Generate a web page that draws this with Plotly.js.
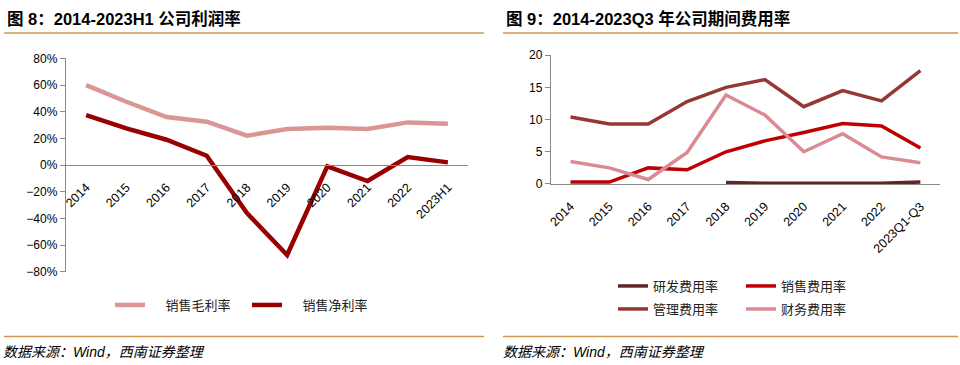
<!DOCTYPE html>
<html><head><meta charset="utf-8">
<script src="https://cdn.plot.ly/plotly-3.0.1.min.js"></script>
<style>body{margin:0;background:#fff}#c{width:960px;height:365px}</style>
</head><body><div id="c"></div>
<script>
const catsL = ['2014','2015','2016','2017','2018','2019','2020','2021','2022','2023H1'];
const grossMargin = [60, 47.5, 36, 32.5, 22, 27, 28, 27, 32, 31];
const netMargin = [37.5, 27.5, 19, 7, -36, -67.5, -1, -12, 6, 2];

const catsR = ['2014','2015','2016','2017','2018','2019','2020','2021','2022','2023Q1-Q3'];
const rdRate = [null, null, null, null, 0.25, 0.1, 0.1, 0.1, 0.1, 0.3];
const salesRate = [0.3, 0.3, 2.5, 2.2, 5.0, 6.7, 8.0, 9.4, 9.0, 5.6];
const mgmtRate = [10.4, 9.3, 9.3, 12.8, 15.0, 16.2, 12.0, 14.5, 12.9, 17.6];
const finRate = [3.5, 2.5, 0.7, 4.9, 13.8, 10.7, 5.0, 7.8, 4.2, 3.3];

const F = 'Liberation Sans, Arial, Noto Sans CJK SC, sans-serif';
const CJK = 'Noto Sans CJK SC, sans-serif';
const AX = '#898989';
const SP = '\u2002\u2002\u2009';

const traces = [
  {x: catsL, y: grossMargin, name: SP + '销售毛利率', type: 'scatter', mode: 'lines',
   line: {color: '#D99694', width: 4.5}, xaxis: 'x', yaxis: 'y', legend: 'legend'},
  {x: catsL, y: netMargin, name: SP + '销售净利率', type: 'scatter', mode: 'lines',
   line: {color: '#990000', width: 4.5}, xaxis: 'x', yaxis: 'y', legend: 'legend'},
  {x: catsR, y: rdRate, name: '研发费用率', type: 'scatter', mode: 'lines',
   line: {color: '#632523', width: 3.5}, xaxis: 'x2', yaxis: 'y2', legend: 'legend2'},
  {x: catsR, y: salesRate, name: '销售费用率', type: 'scatter', mode: 'lines',
   line: {color: '#C00000', width: 3.5}, xaxis: 'x2', yaxis: 'y2', legend: 'legend2'},
  {x: catsR, y: mgmtRate, name: '管理费用率', type: 'scatter', mode: 'lines',
   line: {color: '#953735', width: 3.5}, xaxis: 'x2', yaxis: 'y2', legend: 'legend3'},
  {x: catsR, y: finRate, name: '财务费用率', type: 'scatter', mode: 'lines',
   line: {color: '#DA8A92', width: 3.5}, xaxis: 'x2', yaxis: 'y2', legend: 'legend3'}
];

const legBase = {orientation: 'h', font: {family: CJK, size: 13, color: '#222'},
  bgcolor: 'rgba(0,0,0,0)', borderwidth: 0, xanchor: 'left', yanchor: 'middle', tracegroupgap: 0};

const layout = {
  width: 960, height: 365,
  margin: {l: 0, r: 0, t: 0, b: 0},
  paper_bgcolor: '#fff', plot_bgcolor: '#fff',
  font: {family: F, size: 12, color: '#000'},
  showlegend: true,
  xaxis: {domain: [0.0688, 0.4875], anchor: 'free', position: 0.548, type: 'category', range: [-0.5, 9.5],
    showline: true, linecolor: AX, linewidth: 1.3, showgrid: false, zeroline: false,
    ticks: '', tickangle: -45, ticklabelstandoff: 9, tickfont: {family: F, size: 12.5, color: '#000'}},
  yaxis: {domain: [0.2556, 0.840], anchor: 'x', range: [-80, 80], dtick: 20, ticksuffix: '%',
    showline: true, linecolor: AX, linewidth: 1.3, showgrid: false, zeroline: false,
    ticks: 'outside', ticklen: 5, tickcolor: AX, tickfont: {family: F, size: 12, color: '#000'}},
  xaxis2: {domain: [0.574, 0.979], anchor: 'y2', type: 'category', range: [-0.5, 9.5],
    showline: true, linecolor: AX, linewidth: 1.3, showgrid: false, zeroline: false,
    ticks: '', tickangle: -45, ticklabelstandoff: 9, tickfont: {family: F, size: 12.5, color: '#000'}},
  yaxis2: {domain: [0.4959, 0.849], anchor: 'x2', range: [0, 20], dtick: 5,
    showline: true, linecolor: AX, linewidth: 1.3, showgrid: false, zeroline: false,
    ticks: 'outside', ticklen: 5, tickcolor: AX, tickfont: {family: F, size: 12, color: '#000'}},
  legend: Object.assign({}, legBase, {x: 110/960, y: 1 - 305/365, entrywidth: 92}),
  legend2: Object.assign({}, legBase, {x: 613/960, y: 1 - 286/365, entrywidth: 83}),
  legend3: Object.assign({}, legBase, {x: 613/960, y: 1 - 309/365, entrywidth: 83}),
  shapes: [
    {type: 'line', xref: 'paper', yref: 'paper', x0: 4/960, x1: 484/960, y0: 1 - 33/365, y1: 1 - 33/365, line: {color: '#CC9655', width: 1.5}},
    {type: 'line', xref: 'paper', yref: 'paper', x0: 503/960, x1: 958/960, y0: 1 - 33/365, y1: 1 - 33/365, line: {color: '#CC9655', width: 1.5}},
    {type: 'line', xref: 'paper', yref: 'paper', x0: 4/960, x1: 484/960, y0: 1 - 336.5/365, y1: 1 - 336.5/365, line: {color: '#CC9655', width: 1.5}},
    {type: 'line', xref: 'paper', yref: 'paper', x0: 503/960, x1: 958/960, y0: 1 - 336.5/365, y1: 1 - 336.5/365, line: {color: '#CC9655', width: 1.5}}
  ],
  annotations: [
    {text: '<b>图 8：2014-2023H1 公司利润率</b>', xref: 'paper', yref: 'paper', x: 5/960, y: 1 - 18.5/365,
     xanchor: 'left', yanchor: 'middle', showarrow: false, font: {family: F, size: 16.5, color: '#000'}},
    {text: '<b>图 9：2014-2023Q3 年公司期间费用率</b>', xref: 'paper', yref: 'paper', x: 504/960, y: 1 - 18.5/365,
     xanchor: 'left', yanchor: 'middle', showarrow: false, font: {family: F, size: 16.5, color: '#000'}},
    {text: '<i>数据来源：Wind，西南证券整理</i>', xref: 'paper', yref: 'paper', x: 1/960, y: 1 - 352/365,
     xanchor: 'left', yanchor: 'middle', showarrow: false, font: {family: F, size: 14, color: '#000'}},
    {text: '<i>数据来源：Wind，西南证券整理</i>', xref: 'paper', yref: 'paper', x: 501/960, y: 1 - 352/365,
     xanchor: 'left', yanchor: 'middle', showarrow: false, font: {family: F, size: 14, color: '#000'}}
  ]
};

Plotly.newPlot('c', traces, layout, {displayModeBar: false, staticPlot: true});
</script></body></html>
